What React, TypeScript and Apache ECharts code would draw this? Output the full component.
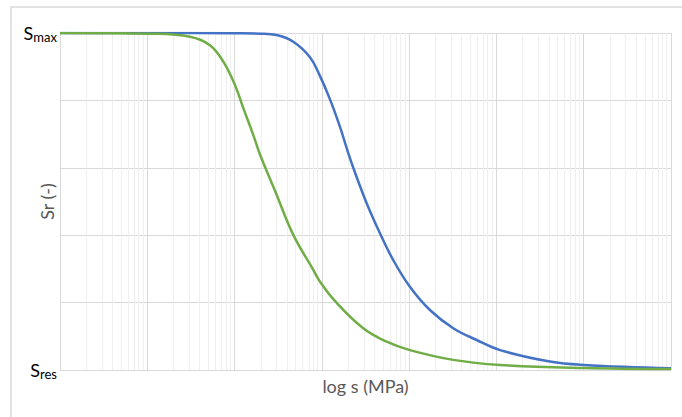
import React, { useEffect, useRef } from "react";
import * as echarts from "echarts";

// Suction (MPa) and degree of saturation
const suctionBlue = [0.001, 0.01, 0.1, 0.2, 0.303, 0.471, 0.731, 0.953, 1.24, 1.61, 2.01, 2.29, 3.26, 4.63, 6.58, 10.2, 17.3, 32, 59.4, 110, 410, 1000, 10000];
const saturationBlue = [1.0, 1.0, 0.999, 0.998, 0.994, 0.974, 0.928, 0.872, 0.803, 0.722, 0.643, 0.600, 0.495, 0.406, 0.326, 0.247, 0.178, 0.124, 0.089, 0.059, 0.025, 0.015, 0.005];

const suctionGreen = [0.001, 0.005, 0.0107, 0.0308, 0.0522, 0.0743, 0.101, 0.126, 0.164, 0.195, 0.299, 0.471, 0.798, 0.953, 1.41, 2.98, 5.53, 10.2, 32, 110, 1000, 10000];
const saturationGreen = [1.0, 0.999, 0.998, 0.989, 0.964, 0.915, 0.846, 0.777, 0.697, 0.640, 0.524, 0.401, 0.297, 0.262, 0.205, 0.124, 0.084, 0.059, 0.03, 0.015, 0.006, 0.003];

// Axis extents: seven decades of suction, saturation between Sres and Smax
const suctionMin = 0.001;
const suctionMax = 10000;
const yTickLabels: Record<string, string> = { "0": "{S|S}{sub|res}", "1": "{S|S}{sub|max}" };

const FONT = "Lato";

// The x axis is plotted in decades (log10 of suction) so the curves can be smoothed evenly
const lg = (s: number) => Math.log10(s);

function minorDecades(): number[] {
  const out: number[] = [];
  for (let d = lg(suctionMin); d < lg(suctionMax); d++) {
    for (let k = 2; k <= 9; k++) out.push(d + Math.log10(k));
  }
  return out;
}

export default function App() {
  const ref = useRef<HTMLDivElement>(null);

  useEffect(() => {
    if (!ref.current) return;
    const chart = echarts.init(ref.current, undefined, { renderer: "svg" });

    const blue = suctionBlue.map((s, i) => [lg(s), saturationBlue[i]]);
    const green = suctionGreen.map((s, i) => [lg(s), saturationGreen[i]]);

    chart.setOption({
      animation: false,
      backgroundColor: "#ffffff",
      textStyle: { fontFamily: FONT },
      graphic: [
        {
          type: "rect",
          shape: { x: 11, y: 7, width: 1000, height: 1000 },
          style: { fill: "none", stroke: "#d9d9d9", lineWidth: 1.5 },
          silent: true,
          z: -10,
        },
      ],
      grid: { left: 60, right: 11, top: 33, bottom: 47, outerBoundsMode: "none", containLabel: false },
      xAxis: {
        type: "value",
        min: lg(suctionMin),
        max: lg(suctionMax),
        interval: 1,
        name: "log s (MPa)",
        nameLocation: "middle",
        nameGap: 7,
        nameMoveOverlap: false,
        nameTextStyle: { fontFamily: FONT, fontSize: 18, color: "#595959" },
        axisLine: { show: false },
        axisTick: { show: false },
        axisLabel: { show: false },
        splitLine: { show: true, lineStyle: { color: "#d9d9d9", width: 1 } },
      },
      yAxis: {
        type: "value",
        min: 0,
        max: 1,
        interval: 0.2,
        name: "Sr (-)",
        nameLocation: "middle",
        nameGap: 4,
        nameMoveOverlap: false,
        nameTextStyle: { fontFamily: FONT, fontSize: 18, color: "#595959" },
        axisLine: { show: false },
        axisTick: { show: false },
        axisLabel: {
          margin: 3,
          formatter: (v: number) => {
            const key = String(Math.round(v * 1000) / 1000);
            return yTickLabels[key] ?? "";
          },
          rich: {
            S: { fontFamily: FONT, fontSize: 18, color: "#000000" },
            sub: { fontFamily: FONT, fontSize: 13, color: "#000000", verticalAlign: "bottom", padding: [7, 0, 0, 0] },
          },
        },
        splitLine: { show: true, lineStyle: { color: "#d9d9d9", width: 1 } },
      },
      series: [
        {
          type: "line",
          name: "minor grid",
          data: [],
          silent: true,
          z: 1,
          markLine: {
            z: 1,
            silent: true,
            symbol: ["none", "none"],
            label: { show: false },
            lineStyle: { color: "#efefef", width: 1, type: "solid" },
            emphasis: { disabled: true },
            data: minorDecades().map((x) => ({ xAxis: x })),
          },
        },
        {
          type: "line",
          name: "blue",
          data: blue,
          showSymbol: false,
          smooth: 0.4,
          z: 10,
          lineStyle: { color: "#4472c4", width: 2.5 },
          itemStyle: { color: "#4472c4" },
        },
        {
          type: "line",
          name: "green",
          data: green,
          showSymbol: false,
          smooth: 0.4,
          z: 11,
          lineStyle: { color: "#70ad47", width: 2.5 },
          itemStyle: { color: "#70ad47" },
        },
      ],
    });

    return () => chart.dispose();
  }, []);

  return (
    <div
      ref={ref}
      style={{ position: "absolute", left: 0, top: 0, width: 682, height: 417 }}
    />
  );
}
